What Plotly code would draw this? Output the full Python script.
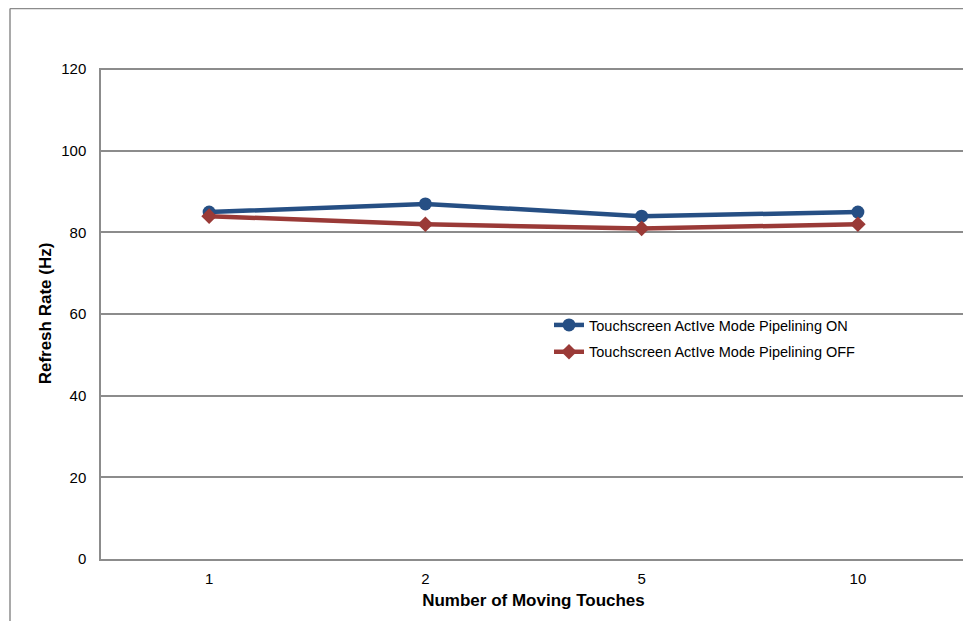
import plotly.graph_objects as go

categories = ["1", "2", "5", "10"]
on_values = [85, 87, 84, 85]
off_values = [84, 82, 81, 82]
y_ticks = [0, 20, 40, 60, 80, 100, 120]

OFF = 8  # page body margin
W, H = 971 - OFF, 621 - OFF
L, R, T, B = 101 - OFF, 5, 68 - OFF, 62
pw, ph = W - L - R, H - T - B

fig = go.Figure()
fig.add_trace(go.Scatter(
    x=categories, y=on_values, mode="lines+markers",
    name="Touchscreen ActIve Mode Pipelining ON", legendgroup="on",
    line=dict(color="#264F84", width=4.5),
    marker=dict(symbol="circle", size=13, color="#264F84"),
))
fig.add_trace(go.Scatter(
    x=categories, y=off_values, mode="lines+markers",
    name="Touchscreen ActIve Mode Pipelining OFF", legendgroup="off",
    line=dict(color="#9A3A37", width=4.5),
    marker=dict(symbol="diamond", size=12, color="#9A3A37"),
))

def px_x(p):
    return (p - OFF - L) / pw

def px_y(p):
    return (H - B - (p - OFF)) / ph

fig.add_shape(type="line", xref="paper", yref="paper",
              x0=px_x(10), x1=px_x(10), y0=px_y(630), y1=px_y(8.5),
              line=dict(color="#8C8C8C", width=1.5))
fig.add_shape(type="line", xref="paper", yref="paper",
              x0=px_x(10), x1=px_x(980), y0=px_y(8.5), y1=px_y(8.5),
              line=dict(color="#8C8C8C", width=1.5))
fig.add_shape(type="line", xref="paper", yref="y", layer="below",
              x0=0, x1=1, y0=y_ticks[-1], y1=y_ticks[-1],
              line=dict(color="#8C8C8C", width=1.5))

fig.update_layout(
    width=W, height=H,
    margin=dict(l=L, r=R, t=T, b=B),
    paper_bgcolor="white", plot_bgcolor="white",
    font=dict(family="Liberation Sans, Arial, sans-serif", size=15, color="black"),
    showlegend=True,
    legend=dict(x=px_x(549), y=px_y(309), xanchor="left", yanchor="top",
                font=dict(size=14.5), bgcolor="rgba(0,0,0,0)", tracegroupgap=5),
    xaxis=dict(
        type="category", categoryorder="array", categoryarray=categories,
        range=[-0.5, 3.5],
        showline=True, linecolor="#8C8C8C", linewidth=1.5,
        showgrid=False, ticks="", ticklabelstandoff=5,
        title=dict(text="<b>Number of Moving Touches</b>", font=dict(size=17), standoff=8),
    ),
    yaxis=dict(
        range=[0, 120.3], tickvals=y_ticks,
        showline=True, linecolor="#8C8C8C", linewidth=1.5,
        showgrid=True, gridcolor="#8C8C8C", gridwidth=1.5,
        zeroline=False, ticks="", ticklabelstandoff=10,
        title=dict(text="<b>Refresh Rate (Hz)</b>", font=dict(size=17), standoff=5),
    ),
)

fig.write_html("out.html")
